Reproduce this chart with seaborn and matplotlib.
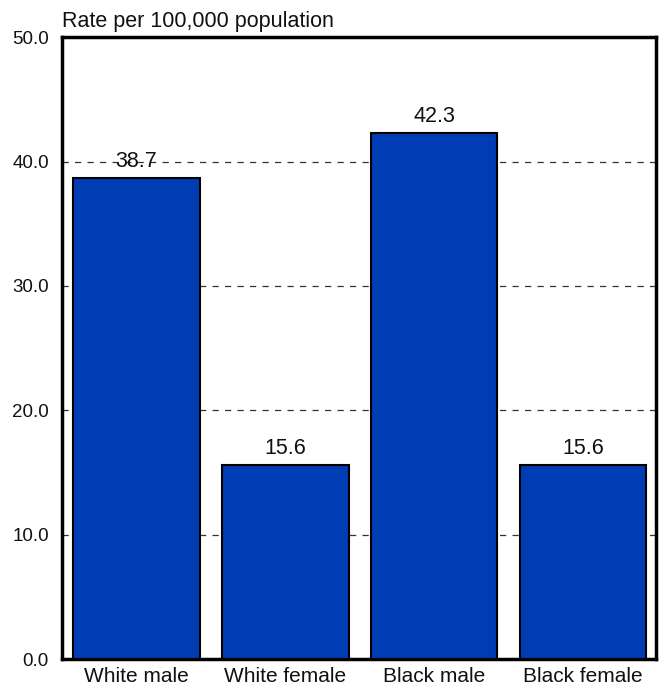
import matplotlib
matplotlib.use("Agg")
import matplotlib.pyplot as plt
import seaborn as sns
import pandas as pd

groups = ["White male", "White female", "Black male", "Black female"]
rates = [38.7, 15.6, 42.3, 15.6]
yticks = [0, 10, 20, 30, 40, 50]

sns.set_style("white")
plt.rcParams["font.family"] = ["Liberation Sans", "DejaVu Sans"]
plt.rcParams["text.color"] = "#111111"

df = pd.DataFrame({"group": groups, "rate": rates})

fig = plt.figure(figsize=(6.62, 6.9), dpi=100)
ax = fig.add_axes([0.0937, 0.0449, 0.8973, 0.9011])

sns.barplot(data=df, x="group", y="rate", color="#003CB4", saturation=1,
            width=0.85, edgecolor="black", linewidth=1.5, zorder=3, ax=ax)

ax.set_ylim(0, 50)
ax.set_xlim(-0.5, 3.49)
ax.set_yticks(yticks)
ax.set_yticklabels([f"{v:.1f}" for v in yticks])
ax.yaxis.grid(True, linestyle=(0, (5, 5)), color="#333333", linewidth=0.9, zorder=0)
ax.set_axisbelow(True)
ax.tick_params(axis="both", length=0, labelcolor="#111111")
ax.tick_params(axis="y", pad=9.5, labelsize=13.5)
ax.tick_params(axis="x", pad=6, labelsize=15)
ax.set_xlabel("")
ax.set_ylabel("")
for s in ax.spines.values():
    s.set_visible(True)
    s.set_linewidth(2.5)
    s.set_color("black")

for i, v in enumerate(rates):
    ax.text(i, v + 0.5, f"{v:.1f}", ha="center", va="bottom", fontsize=15.5,
            color="#111111", zorder=4)

ax.text(0.0, 1.008, "Rate per 100,000 population", transform=ax.transAxes,
        ha="left", va="bottom", fontsize=15.5, color="#111111")

fig.savefig("out.png", dpi=100)
